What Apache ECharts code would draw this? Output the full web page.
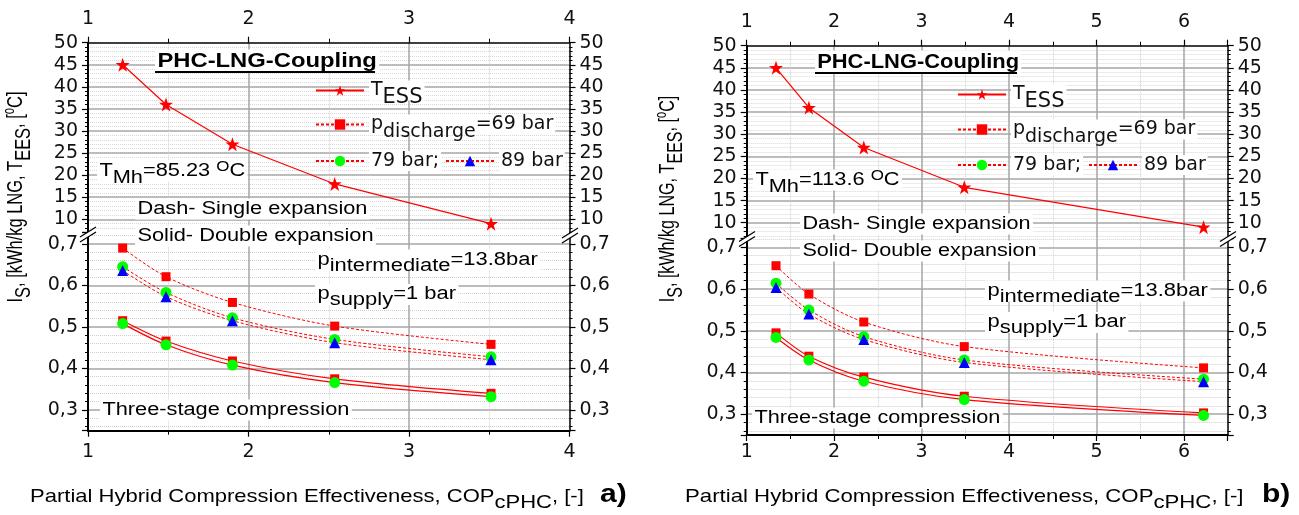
<!DOCTYPE html>
<html>
<head>
<meta charset="utf-8">
<script src="https://cdn.jsdelivr.net/npm/echarts@6.0.0/dist/echarts.min.js"></script>
<style>
html,body{margin:0;padding:0;background:#fff;}
#chart{width:1299px;height:515px;}
</style>
</head>
<body>
<div id="chart"></div>
<script>
// ---------------- data ----------------
const copA = [1.216, 1.486, 1.90, 2.537, 3.511];
const tessA = [45, 36, 27, 18, 9];
const singleA69 = [0.690, 0.621, 0.559, 0.502, 0.458];
const singleA79 = [0.645, 0.583, 0.522, 0.470, 0.428];
const singleA89 = [0.636, 0.573, 0.515, 0.462, 0.421];
const doubleA69 = [0.515, 0.466, 0.418, 0.375, 0.340];
const doubleA79 = [0.508, 0.457, 0.408, 0.366, 0.332];

const copB = [1.335, 1.711, 2.339, 3.488, 6.224];
const tessB = [45, 36, 27, 18, 9];
const singleB69 = [0.656, 0.588, 0.521, 0.462, 0.411];
const singleB79 = [0.614, 0.550, 0.486, 0.430, 0.384];
const singleB89 = [0.604, 0.540, 0.479, 0.424, 0.378];
const doubleB69 = [0.495, 0.439, 0.389, 0.343, 0.303];
const doubleB79 = [0.484, 0.430, 0.379, 0.335, 0.297];

const xTicksA = [1, 2, 3, 4];
const xTicksB = [1, 2, 3, 4, 5, 6];
const yTicksUpper = [10, 15, 20, 25, 30, 35, 40, 45, 50];
const yTicksLower = [0.3, 0.4, 0.5, 0.6, 0.7];

// ---------------- styling helpers ----------------
const TICKF = 'DejaVu Sans';
const TXTF = 'Liberation Sans';
const INK = '#000';
const STAR = 'path://M50,2 L61.8,36.2 L97.6,36.2 L68.6,57.6 L79.4,92.4 L50,71 L20.6,92.4 L31.4,57.6 L2.4,36.2 L38.2,36.2 Z';
const inList = (list, v) => list.some(t => Math.abs(t - v) < 1e-6);

function xAxisCfg(gi, pos, maxV, margin, ticks) {
  return {
    type: 'value', gridIndex: gi, position: pos, min: 1, max: maxV, interval: 1,
    axisLine: {show: true, onZero: false, lineStyle: {color: '#000', width: pos === 'bottom' ? 2 : 1.5}},
    axisTick: {show: true, length: 6, lineStyle: {color: '#000', width: 1.2}},
    minorTick: {show: true, splitNumber: 2, length: 4, lineStyle: {color: '#000', width: 1}},
    axisLabel: {show: true, margin: margin, fontFamily: TICKF, fontSize: 19, color: '#111',
      formatter: v => inList(ticks, v) ? String(Math.round(v)) : ''},
    splitLine: {show: true, showMinLine: false, showMaxLine: false, lineStyle: {color: '#a6a6a6', width: 1.5}},
    minorSplitLine: {show: true, lineStyle: {color: '#cfcfcf', width: 1, type: 'dotted'}}
  };
}
function yAxisCfg(gi, pos, minV, maxV, lower, main) {
  return {
    type: 'value', gridIndex: gi, position: pos, min: minV, max: maxV, splitNumber: lower ? 5 : 8,
    axisLine: {show: true, onZero: false, lineStyle: {color: '#000', width: pos === 'left' ? 2 : 1.5}},
    axisTick: {show: true, length: 6, lineStyle: {color: '#000', width: 1.2}},
    minorTick: {show: true, splitNumber: 5, length: 3, lineStyle: {color: '#000', width: 1}},
    axisLabel: {show: true, margin: 10, fontFamily: TICKF, fontSize: 19, color: '#111',
      formatter: lower
        ? (v => inList(yTicksLower, v) ? v.toFixed(1).replace('.', ',') : '')
        : (v => inList(yTicksUpper, v) ? String(Math.round(v)) : '')},
    splitLine: {show: main, showMinLine: false, showMaxLine: false, lineStyle: {color: '#a6a6a6', width: 1.5}},
    minorSplitLine: {show: main, lineStyle: {color: lower ? '#cfcfcf' : '#d8d8d8', width: 1, type: 'dotted'}}
  };
}
function ser(name, xi, yi, xs, ys, symbol, size, color, dashed, smooth) {
  return {
    name: name, type: 'line', xAxisIndex: xi, yAxisIndex: yi,
    data: xs.map((x, i) => [x, ys[i]]),
    symbol: symbol, symbolSize: size, showSymbol: true,
    itemStyle: {color: color},
    lineStyle: {color: '#ff0000', width: dashed ? 1 : 1.2, type: dashed ? [3, 2] : 'solid'},
    smooth: smooth ? 0.3 : false,
    emphasis: {disabled: true}
  };
}

// legend
const LEG_TEXT = {
  aT: '{m|T}{sl|ESS}', a69: '{m|p}{s|discharge}{m|=69 bar}', a79: '{m|79 bar;}', a89: '{m|89 bar}',
  bT: '{m|T}{sl|ESS}', b69: '{m|p}{s|discharge}{m|=69 bar}', b79: '{m|79 bar;}', b89: '{m|89 bar}'
};
const legRich = {
  m: {fontSize: 19, lineHeight: 20, fontFamily: TICKF, color: '#111'},
  s: {fontSize: 19, lineHeight: 20, fontFamily: TICKF, color: '#111', padding: [15, 0, 0, 0]},
  sl: {fontSize: 21, lineHeight: 20, fontFamily: TICKF, color: '#111', padding: [15, 0, 0, 0]}
};
function leg(name, left, rowY, hasSub) {
  return {
    data: [name], left: left, top: rowY - (hasSub ? 17.5 : 10), padding: 0, itemWidth: 48, itemHeight: 13,
    selectedMode: false, formatter: n => LEG_TEXT[n],
    textStyle: {fontFamily: TICKF, fontSize: 19, color: '#111', backgroundColor: '#fff', padding: [0, 2], rich: legRich}
  };
}

// free text
function richFor(fs, font, sub, sup, supFs, bold) {
  const w = bold ? 'bold' : 'normal';
  return {
    m: {fontSize: fs, lineHeight: fs + 3, fontFamily: font, fontWeight: w, fill: INK},
    s: {fontSize: fs, lineHeight: fs + 3, fontFamily: font, fontWeight: w, fill: INK, padding: [2 * sub, 0, 0, 0]},
    u: {fontSize: supFs || fs, lineHeight: fs + 3, fontFamily: font, fontWeight: w, fill: INK, padding: [0, 0, 2 * sup, 0]}
  };
}
function txt(text, x, y, fs, sx, opt) {
  opt = opt || {};
  return {
    type: 'text', x: x, y: y, scaleX: sx, scaleY: opt.sy || 1, rotation: opt.rot || 0, z: 100,
    style: {
      text: text, fontFamily: TXTF, fontSize: fs, fontWeight: opt.bold ? 'bold' : 'normal', fill: INK,
      align: opt.align || 'left', verticalAlign: 'middle',
      backgroundColor: opt.noBg ? null : '#fff', padding: opt.noBg ? 0 : [0, 2],
      rich: richFor(fs, TXTF, opt.sub || 7, opt.sup || 4, opt.supFs, opt.bold)
    }
  };
}
function brk(cx, cy) {
  return [
    {type: 'polygon', z: 101, shape: {points: [[cx - 8, cy + 3], [cx + 8, cy - 7], [cx + 8, cy - 2], [cx - 8, cy + 8]]}, style: {fill: '#fff'}},
    {type: 'line', z: 102, shape: {x1: cx - 8, y1: cy + 3, x2: cx + 8, y2: cy - 7}, style: {stroke: '#000', lineWidth: 1.3}},
    {type: 'line', z: 102, shape: {x1: cx - 8, y1: cy + 8, x2: cx + 8, y2: cy - 2}, style: {stroke: '#000', lineWidth: 1.3}}
  ];
}
const XTITLE = '{m|Partial Hybrid Compression Effectiveness, COP}{s|cPHC}{m|, [-]}';
const YTITLE = '{m|I}{s|S}{m|, [kWh/kg LNG, T}{s|EES}{m|, [}{u|o}{m|C]}';
const F = 18;

const graphics = [
  // panel a
  txt('{m|PHC-LNG-Coupling}', 155, 61, 20, 1.19, {bold: true}),
  {type: 'line', z: 101, shape: {x1: 155, y1: 72, x2: 375, y2: 72}, style: {stroke: '#000', lineWidth: 2}},
  txt('{m|T}{s|Mh}{m|=85.23 }{u|O}{m|C}', 97, 171, F, 1.21, {supFs: 14, sup: 4}),
  txt('{m|Dash- Single expansion}', 135, 209, F, 1.21),
  txt('{m|Solid- Double expansion}', 135, 236, F, 1.21),
  txt('{m|p}{s|intermediate}{m|=13.8bar}', 315, 260, F, 1.22, {sub: 6}),
  txt('{m|p}{s|supply}{m|=1 bar}', 315, 294.5, F, 1.22, {sub: 6}),
  txt('{m|Three-stage compression}', 100, 410, F, 1.21),
  txt(YTITLE, 16, 197, 17.5, 0.94, {sy: 1.3, rot: Math.PI / 2, align: 'center', noBg: true, sub: 6, sup: 5, supFs: 12}),
  txt(XTITLE, 30, 497, 18.5, 1.19, {noBg: true, sub: 6}),
  txt('{m|a)}', 600, 495, 25, 1.2, {bold: true, noBg: true}),
  ...brk(88, 234), ...brk(570, 235),
  // panel b
  txt('{m|PHC-LNG-Coupling}', 815, 62, 20, 1.095, {bold: true}),
  {type: 'line', z: 101, shape: {x1: 815, y1: 73, x2: 1017, y2: 73}, style: {stroke: '#000', lineWidth: 2}},
  txt('{m|T}{s|Mh}{m|=113.6 }{u|O}{m|C}', 753, 180, F, 1.21, {supFs: 14, sup: 4}),
  txt('{m|Dash- Single expansion}', 800, 224, F, 1.2),
  txt('{m|Solid- Double expansion}', 800, 251, F, 1.2),
  txt('{m|p}{s|intermediate}{m|=13.8bar}', 985, 291, F, 1.22, {sub: 6}),
  txt('{m|p}{s|supply}{m|=1 bar}', 985, 322.5, F, 1.22, {sub: 6}),
  txt('{m|Three-stage compression}', 752, 418, F, 1.205),
  txt(YTITLE, 668, 199, 17.5, 0.92, {sy: 1.3, rot: Math.PI / 2, align: 'center', noBg: true, sub: 6, sup: 5, supFs: 12}),
  txt(XTITLE, 685, 497, 18.5, 1.2, {noBg: true, sub: 6}),
  txt('{m|b)}', 1262, 495, 25, 1.2, {bold: true, noBg: true}),
  ...brk(747, 238.5), ...brk(1228, 238.5)
];

const option = {
  animation: false,
  backgroundColor: '#fff',
  grid: [
    {left: 88, top: 42.7, width: 481.5, height: 189.8},
    {left: 88, top: 232.5, width: 481.5, height: 198.2},
    {left: 746.7, top: 45.7, width: 481, height: 192.5},
    {left: 746.7, top: 238.2, width: 481, height: 196.8}
  ],
  xAxis: [
    xAxisCfg(0, 'top', 4, 14, xTicksA),
    xAxisCfg(1, 'bottom', 4, 12, xTicksA),
    xAxisCfg(2, 'top', 6.5, 14, xTicksB),
    xAxisCfg(3, 'bottom', 6.5, 8, xTicksB)
  ],
  yAxis: [
    yAxisCfg(0, 'left', 7, 50, false, true),
    yAxisCfg(0, 'right', 7, 50, false, false),
    yAxisCfg(1, 'left', 0.25, 0.7275, true, true),
    yAxisCfg(1, 'right', 0.25, 0.7275, true, false),
    yAxisCfg(2, 'left', 6.5, 50, false, true),
    yAxisCfg(2, 'right', 6.5, 50, false, false),
    yAxisCfg(3, 'left', 0.25, 0.722, true, true),
    yAxisCfg(3, 'right', 0.25, 0.722, true, false)
  ],
  legend: [
    leg('aT', 315, 90, true), leg('a69', 315, 125, true), leg('a79', 315, 161), leg('a89', 445, 161),
    leg('bT', 957, 94, true), leg('b69', 957, 130, true), leg('b79', 957, 165), leg('b89', 1088, 165)
  ],
  series: [
    ser('aT', 0, 0, copA, tessA, STAR, 14, '#ff0000', false, false),
    ser('a69', 1, 2, copA, singleA69, 'rect', 9, '#ff0000', true, true),
    ser('a79', 1, 2, copA, singleA79, 'circle', 11, '#00ff00', true, true),
    ser('a89', 1, 2, copA, singleA89, 'triangle', 11, '#0000ff', true, true),
    ser('a69d', 1, 2, copA, doubleA69, 'rect', 9, '#ff0000', false, true),
    ser('a79d', 1, 2, copA, doubleA79, 'circle', 11, '#00ff00', false, true),
    ser('bT', 2, 4, copB, tessB, STAR, 14, '#ff0000', false, false),
    ser('b69', 3, 6, copB, singleB69, 'rect', 9, '#ff0000', true, true),
    ser('b79', 3, 6, copB, singleB79, 'circle', 11, '#00ff00', true, true),
    ser('b89', 3, 6, copB, singleB89, 'triangle', 11, '#0000ff', true, true),
    ser('b69d', 3, 6, copB, doubleB69, 'rect', 9, '#ff0000', false, true),
    ser('b79d', 3, 6, copB, doubleB79, 'circle', 11, '#00ff00', false, true)
  ],
  graphic: graphics
};

const chart = echarts.init(document.getElementById('chart'));
chart.setOption(option);
</script>
</body>
</html>
